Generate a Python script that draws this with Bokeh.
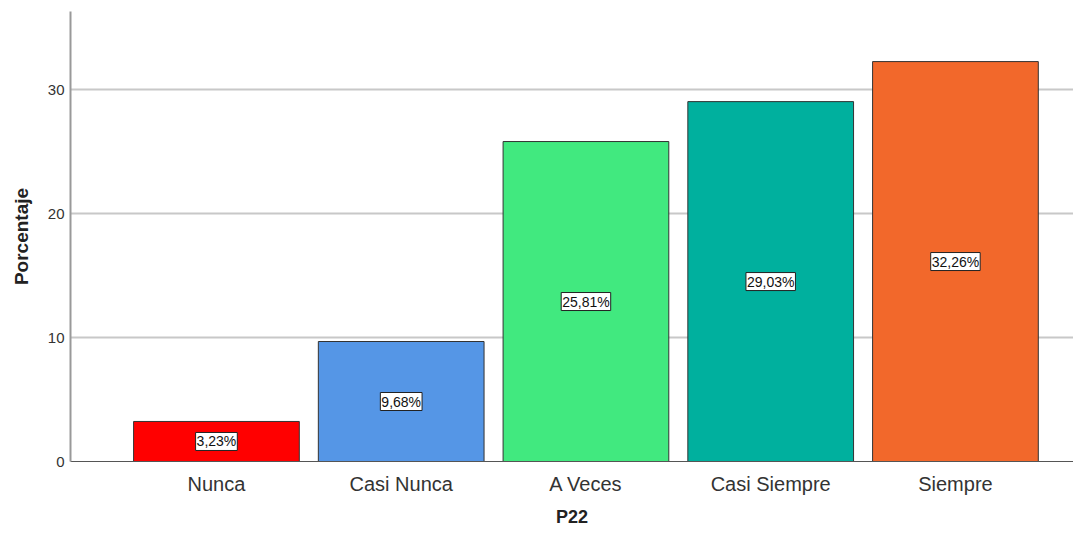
from bokeh.plotting import figure
from bokeh.models import ColumnDataSource, Range1d, FixedTicker
from bokeh.core.properties import value
from bokeh.embed import file_html
from bokeh.resources import INLINE

categories = ["Nunca", "Casi Nunca", "A Veces", "Casi Siempre", "Siempre"]
values = [3.23, 9.68, 25.81, 29.03, 32.26]
colors = ["#FF0000", "#5596E6", "#41E97F", "#00B09E", "#F2682B"]
y_ticks = [0, 10, 20, 30]

xs = list(range(len(categories)))
labels = [("%.2f%%" % v).replace(".", ",") for v in values]
src = ColumnDataSource(dict(x=xs, top=values, mid=[v / 2 for v in values],
                            color=colors, label=labels))

p = figure(width=1073, height=533, output_backend="svg", toolbar_location=None,
           x_range=Range1d(-0.79, 4.639), y_range=Range1d(0, 36.3),
           min_border_left=70, min_border_right=0, min_border_top=11, min_border_bottom=72)
p.outline_line_color = None
p.background_fill_color = "white"

p.vbar(x="x", top="top", width=0.897, bottom=0, fill_color="color",
       line_color="#333333", line_width=1, source=src)

p.text(x="x", y="mid", text="label", source=src, text_align="center",
       text_baseline="middle", text_font=value("Liberation Sans"), text_font_size="14px",
       text_color="#111111", background_fill_color="white",
       border_line_color="#222222", border_line_width=1, padding=1)

p.xgrid.grid_line_color = None
p.ygrid.ticker = FixedTicker(ticks=[10, 20, 30])
p.ygrid.grid_line_color = "#c8c8c8"
p.ygrid.grid_line_width = 2

p.xaxis.ticker = FixedTicker(ticks=xs)
p.xaxis.major_label_overrides = {i: c for i, c in enumerate(categories)}
p.xaxis.major_label_text_font = "Liberation Sans"
p.xaxis.major_label_text_font_size = "20px"
p.xaxis.major_label_text_color = "#333333"
p.xaxis.major_label_standoff = 5
p.xaxis.major_tick_line_color = None
p.xaxis.minor_tick_line_color = None
p.xaxis.axis_line_color = "#555555"
p.xaxis.axis_label = "P22"
p.xaxis.axis_label_text_font = "Liberation Sans"
p.xaxis.axis_label_text_font_style = "bold"
p.xaxis.axis_label_text_font_size = "18px"
p.xaxis.axis_label_text_color = "#222222"
p.xaxis.axis_label_standoff = 9

p.yaxis.ticker = FixedTicker(ticks=y_ticks)
p.yaxis.major_label_text_font = "Liberation Sans"
p.yaxis.major_label_text_font_size = "15px"
p.yaxis.major_label_text_color = "#333333"
p.yaxis.major_label_standoff = 0
p.yaxis.major_tick_line_color = None
p.yaxis.minor_tick_line_color = None
p.yaxis.axis_line_color = "#999999"
p.yaxis.axis_line_width = 2
p.yaxis.axis_label = "Porcentaje"
p.yaxis.axis_label_text_font = "Liberation Sans"
p.yaxis.axis_label_text_font_style = "bold"
p.yaxis.axis_label_text_font_size = "19px"
p.yaxis.axis_label_text_color = "#222222"
p.yaxis.axis_label_standoff = 13

open("out.html", "w").write(file_html(p, INLINE))
